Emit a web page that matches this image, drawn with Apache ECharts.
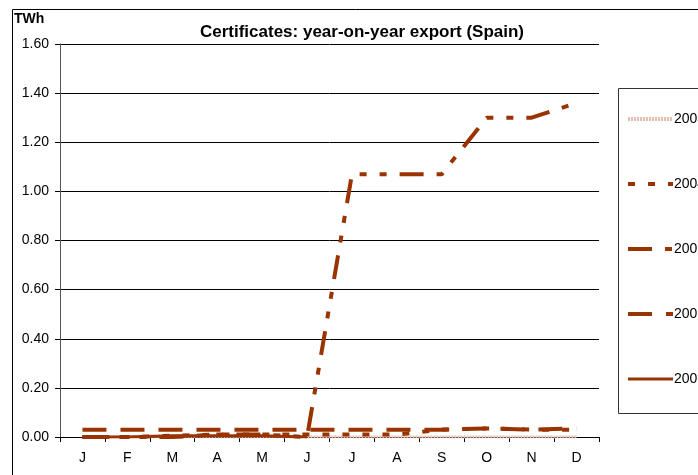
<!DOCTYPE html>
<html><head><meta charset="utf-8">
<script src="https://cdn.jsdelivr.net/npm/echarts@6/dist/echarts.min.js"></script>
<style>html,body{margin:0;padding:0;background:#fff}#c{width:698px;height:475px}</style>
</head><body><div id="c"></div>
<script>
const months = ['J','F','M','A','M','J','J','A','S','O','N','D'];
const yTicks = [0, 0.2, 0.4, 0.6, 0.8, 1.0, 1.2, 1.4, 1.6];
const seriesNames = ['2003','2004','2005','2006','2007'];
const s2003 = [0,0,0,0,0,0,0,0,0,0,0,0];
const s2004 = [0.00,0.00,0.005,0.01,0.01,0.01,0.01,0.01,0.03,0.035,0.03,0.03];
const s2005 = [0.00,0.00,0.00,0.01,0.01,0.00,1.07,1.07,1.07,1.30,1.30,1.36];
const s2006 = [0.03,0.03,0.03,0.03,0.03,0.03,0.03,0.03,0.03,0.035,0.03,0.035];
const s2007 = [0.00,0.00,0.005,0.005,0.005,0.00,null,null,null,null,null,null];

const dark = '#993300';
const pink = '#E6BFB0';
const chart = echarts.init(document.getElementById('c'), null, {renderer:'canvas'});
const mk = (name, data, color, width, dash, z) => ({
  name, type:'line', data, symbol:'none', z,
  lineStyle:{color, width, type:dash, cap:'butt'},
  itemStyle:{color}, emphasis:{disabled:true}
});
chart.setOption({
  animation:false,
  textStyle:{fontFamily:'Liberation Sans, Arial, sans-serif'},
  grid:{left:60, right:99, top:44, bottom:38, containLabel:false},
  xAxis:{type:'category', data:months, boundaryGap:true,
    axisLine:{lineStyle:{color:'#000', width:1}},
    axisTick:{show:true, alignWithLabel:false, length:5, lineStyle:{color:'#000'}},
    axisLabel:{color:'#000', fontSize:14, margin:14}},
  yAxis:{type:'value', min:0, max:1.6, interval:0.2,
    axisLine:{show:true, lineStyle:{color:'#555', width:1}},
    axisTick:{show:true, length:5, lineStyle:{color:'#000'}},
    axisLabel:{color:'#000', fontSize:14, margin:11, formatter:v=>v.toFixed(2)},
    splitLine:{lineStyle:{color:'#000', width:1}}},
  legend:{orient:'vertical', left:626, top:112, padding:0, itemWidth:45, itemHeight:14, itemGap:51,
    itemStyle:{opacity:0},
    data:[
      {name:seriesNames[0], lineStyle:{width:4, color:pink}},
      {name:seriesNames[1], lineStyle:{width:4, color:dark}},
      {name:seriesNames[2], lineStyle:{width:4, color:dark}},
      {name:seriesNames[3], lineStyle:{width:4, color:dark}},
      {name:seriesNames[4], lineStyle:{width:3, color:dark}}
    ],
    textStyle:{color:'#000', fontSize:14, padding:[0,0,0,-4]},
    selectedMode:false},
  series:[
    mk(seriesNames[0], s2003, pink, 3, [2,1], 2),
    mk(seriesNames[1], s2004, dark, 4, [7,13], 3),
    mk(seriesNames[2], s2005, dark, 4, [24,13,7,13,7,13], 4),
    mk(seriesNames[3], s2006, dark, 4, [24,14], 5),
    mk(seriesNames[4], s2007, dark, 3, 'solid', 6)
  ],
  graphic:[
    {type:'rect', left:10, top:7, shape:{width:720, height:500}, style:{fill:'none', stroke:'#000', lineWidth:1}, silent:true, z:-1},
    {type:'rect', left:616, top:86, shape:{width:120, height:325}, style:{fill:'none', stroke:'#333', lineWidth:1}, silent:true},
    {type:'text', left:14, top:12, style:{text:'TWh', font:'bold 14px "Liberation Sans", Arial', fill:'#000'}},
    {type:'text', x:362, y:24, style:{text:'Certificates: year-on-year export (Spain)', font:'bold 17px "Liberation Sans", Arial', fill:'#000', textAlign:'center'}}
  ]
});
</script></body></html>
